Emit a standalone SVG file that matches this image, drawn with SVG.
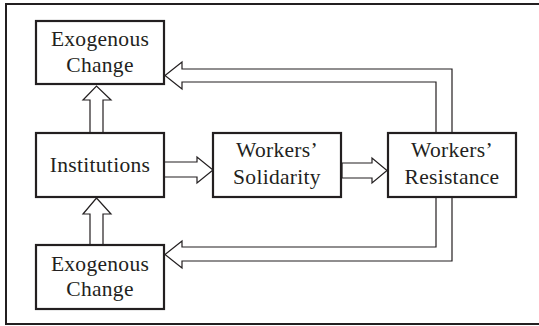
<svg xmlns="http://www.w3.org/2000/svg" width="539" height="326" viewBox="0 0 539 326">
<style>
.box{fill:#fff;stroke:#231f20;stroke-width:2.2}
.frame{fill:none;stroke:#231f20;stroke-width:2}
.arr{fill:#fff;stroke:#231f20;stroke-width:1.2;stroke-linejoin:miter}
.t{font-family:'Liberation Serif','Times New Roman',serif;font-size:21.5px;letter-spacing:0.3px;fill:#231f20;text-anchor:middle}
</style>
<rect x="0" y="0" width="539" height="326" fill="#fff"/>
<rect class="frame" x="6" y="4" width="545" height="320"/>
<g id="connectors">
<polygon class="arr" points="90,133 90,100 83,100 96.5,86 111,100 103,100 103,133"/>
<polygon class="arr" points="90,245 90,214 83,214 96.5,198 111,214 103,214 103,245"/>
<polygon class="arr" points="164,162 197,162 197,157 213,170 197,183 197,177 164,177"/>
<polygon class="arr" points="342,163 372,163 372,158 387,170.5 372,183 372,178 342,178"/>
<polygon class="arr" points="436,133 436,82 182,82 182,89 165,75.5 182,62 182,69 452,69 452,133"/>
<polygon class="arr" points="436,197 436,247 182,247 182,241 165,254.5 182,268 182,261 452,261 452,197"/>
</g>
<g id="exo-top">
<rect class="box" x="36" y="21" width="128" height="63"/>
<text class="t" x="100" y="46">Exogenous</text>
<text class="t" x="100" y="72">Change</text>
</g>
<g id="institutions">
<rect class="box" x="36" y="133" width="128" height="64"/>
<text class="t" x="100" y="172">Institutions</text>
</g>
<g id="solidarity">
<rect class="box" x="213" y="133" width="128" height="64"/>
<text class="t" x="277" y="157">Workers’</text>
<text class="t" x="277" y="184">Solidarity</text>
</g>
<g id="resistance">
<rect class="box" x="388" y="133" width="128" height="64"/>
<text class="t" x="452" y="157">Workers’</text>
<text class="t" x="452" y="184">Resistance</text>
</g>
<g id="exo-bottom">
<rect class="box" x="36" y="245" width="128" height="64"/>
<text class="t" x="100" y="271">Exogenous</text>
<text class="t" x="100" y="296">Change</text>
</g>
</svg>
